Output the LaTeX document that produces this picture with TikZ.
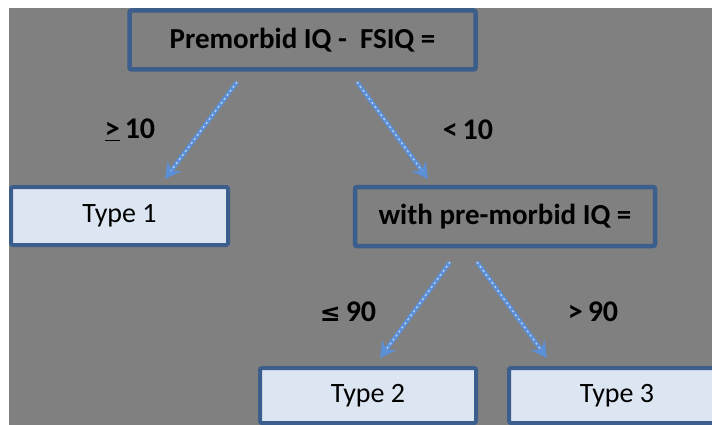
\documentclass[tikz,border=0pt]{standalone}
\usepackage{fontspec}
\setmainfont{Carlito}
\newfontfamily\symfont{DejaVu Sans}
\usetikzlibrary{arrows.meta}
\definecolor{bggray}{HTML}{808080}
\definecolor{boxblue}{HTML}{3B5E8C}
\definecolor{boxfill}{HTML}{DCE6F2}
\definecolor{arrblue}{HTML}{5B8FD6}
\tikzset{
  qbox/.style={draw=boxblue, line width=4.5pt, fill=bggray, rounded corners=2pt,
    font=\fontsize{29}{31}\selectfont\bfseries, inner sep=0pt},
  tbox/.style={draw=boxblue, line width=4pt, fill=boxfill, rounded corners=2pt,
    font=\fontsize{28}{30}\selectfont, inner sep=0pt},
  lbl/.style={font=\fontsize{30}{32}\selectfont\bfseries, inner sep=0pt},
  conn/.style={draw=arrblue, line width=4.5pt,
    -{Stealth[length=16pt, width=17pt, inset=6pt]}},
  conndots/.style={draw=white, line width=1.3pt, dash pattern=on 2pt off 3pt, opacity=0.6, shorten >=10pt}
}
\begin{document}
\begin{tikzpicture}[x=1pt, y=-1pt]
\useasboundingbox (0,0) rectangle (712,425);
\clip (0,0) rectangle (712,425);
\fill[bggray] (9,8) rectangle (712,425);

\node[qbox, minimum width=346pt, minimum height=59pt] (top) at (302.5,40) {Premorbid IQ -\ \ FSIQ =};
\node[tbox, minimum width=217pt, minimum height=58pt] (t1) at (119.5,216) {Type 1};
\node[qbox, minimum width=300pt, minimum height=59pt] (mid) at (505,216.5) {with pre-morbid IQ =};
\node[tbox, minimum width=216pt, minimum height=55pt] (t2) at (368,395.5) {\raisebox{-3pt}{Type 2}};
\node[tbox, minimum width=216pt, minimum height=55pt] (t3) at (617,395.5) {\raisebox{-3pt}{Type 3}};

\node[lbl] (l1) at (130,130) {\underline{>}\,10};
\node[lbl] (l2) at (468,130) {<\,10};
\node[lbl] (l3) at (348,312) {{\symfont\fontsize{25}{27}\selectfont ≤}\,90};
\node[lbl] (l4) at (593,312) {>\,90};

\coordinate (a1s) at (237,82);  \coordinate (a1e) at (165,179);
\coordinate (a2s) at (357,82);  \coordinate (a2e) at (428,179);
\coordinate (a3s) at (450,262); \coordinate (a3e) at (380,358);
\coordinate (a4s) at (477,262); \coordinate (a4e) at (547,358);

\foreach \s/\e in {a1s/a1e, a2s/a2e, a3s/a3e, a4s/a4e}{
  \draw[conn] (\s) -- (\e);
  \draw[conndots] (\s) -- (\e);
}
\end{tikzpicture}
\end{document}
